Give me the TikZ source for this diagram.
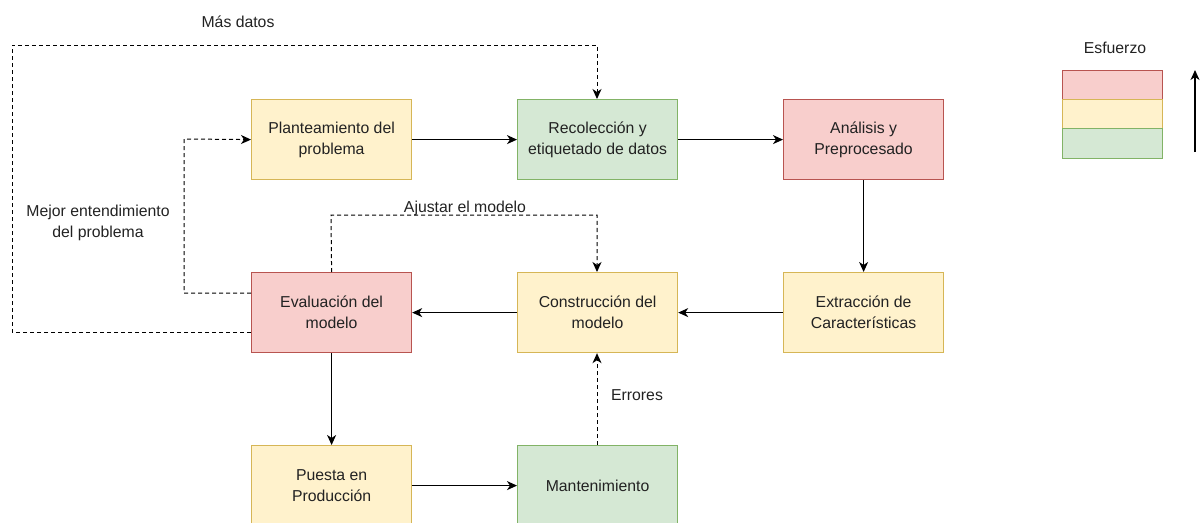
\documentclass[tikz,border=0pt]{standalone}
\usepackage{fontspec}
\setmainfont{Liberation Sans}
\usetikzlibrary{arrows.meta}
\definecolor{yfill}{HTML}{FFF2CC}\definecolor{ystroke}{HTML}{D6B656}
\definecolor{gfill}{HTML}{D5E8D4}\definecolor{gstroke}{HTML}{82B366}
\definecolor{rfill}{HTML}{F8CECC}\definecolor{rstroke}{HTML}{B85450}
\definecolor{txt}{HTML}{222222}
\begin{document}
\begin{tikzpicture}[x=1pt,y=-1pt,
  every node/.style={font=\fontsize{15.8}{21}\selectfont, text=txt},
  box/.style={draw, line width=1.2pt, minimum width=160pt, minimum height=80pt, align=center, inner sep=0pt, anchor=north west},
  ybox/.style={box, fill=yfill, draw=ystroke},
  gbox/.style={box, fill=gfill, draw=gstroke},
  rbox/.style={box, fill=rfill, draw=rstroke},
  lbl/.style={align=center, inner sep=0pt},
  conn/.style={line width=1.3pt, -{Stealth[length=10pt,width=9pt,inset=3pt]}},
  dconn/.style={line width=1pt, dash pattern=on 4pt off 3pt, -{Stealth[length=10pt,width=9pt,inset=3pt,line width=1pt]}}
]
\useasboundingbox (0,0) rectangle (1201,522);
\node[ybox] (plan) at (251,99) {Planteamiento del\\problema};
\node[gbox] (reco) at (517,99) {Recolección y\\etiquetado de datos};
\node[rbox] (anal) at (783,99) {Análisis y\\Preprocesado};
\node[ybox] (extr) at (783,272) {Extracción de\\Características};
\node[ybox] (cons) at (517,272) {Construcción del\\modelo};
\node[rbox] (eval) at (251,272) {Evaluación del\\modelo};
\node[ybox] (pues) at (251,445) {Puesta en\\Producción};
\node[gbox] (mant) at (517,445) {Mantenimiento};

% legend
\node[lbl] (esf) at (1115,48) {Esfuerzo};
\node[box, fill=rfill, draw=rstroke, minimum width=100pt, minimum height=29pt] (lr) at (1062,70) {};
\node[box, fill=yfill, draw=ystroke, minimum width=100pt, minimum height=29pt] (ly) at (1062,99) {};
\node[box, fill=gfill, draw=gstroke, minimum width=100pt, minimum height=30pt] (lg) at (1062,128) {};
\coordinate (ab) at (1195,152);
\coordinate (at) at (1195,70);
\draw[conn] (ab) -- (at);

% solid arrows
\draw[conn] (plan) -- (reco);
\draw[conn] (reco) -- (anal);
\draw[conn] (anal) -- (extr);
\draw[conn] (extr) -- (cons);
\draw[conn] (cons) -- (eval);
\draw[conn] (eval.south) -- (pues.north);
\draw[conn] (pues) -- (mant);

% dashed
\draw[dconn] (eval.west |- 0,332) -- (12,332) -- (12,45) -- (597,45) -- (reco.north -| 597,0);
\node[lbl] (masd) at (238,22) {Más datos};
\draw[dconn] (eval.west |- 0,293) -- (184,293) -- (184,139) -- (plan.west);
\node[lbl] (mej) at (98,223) {Mejor entendimiento\\del problema};
\draw[dconn] (eval.north) -- (331,215) -- (597,215) -- (cons.north -| 597,0);
\node[lbl] (ajus) at (465,208) {Ajustar el modelo};
\draw[dconn] (mant.north -| 597,0) -- (cons.south -| 597,0);
\node[lbl] (err) at (637,395) {Errores};
\end{tikzpicture}
\end{document}
